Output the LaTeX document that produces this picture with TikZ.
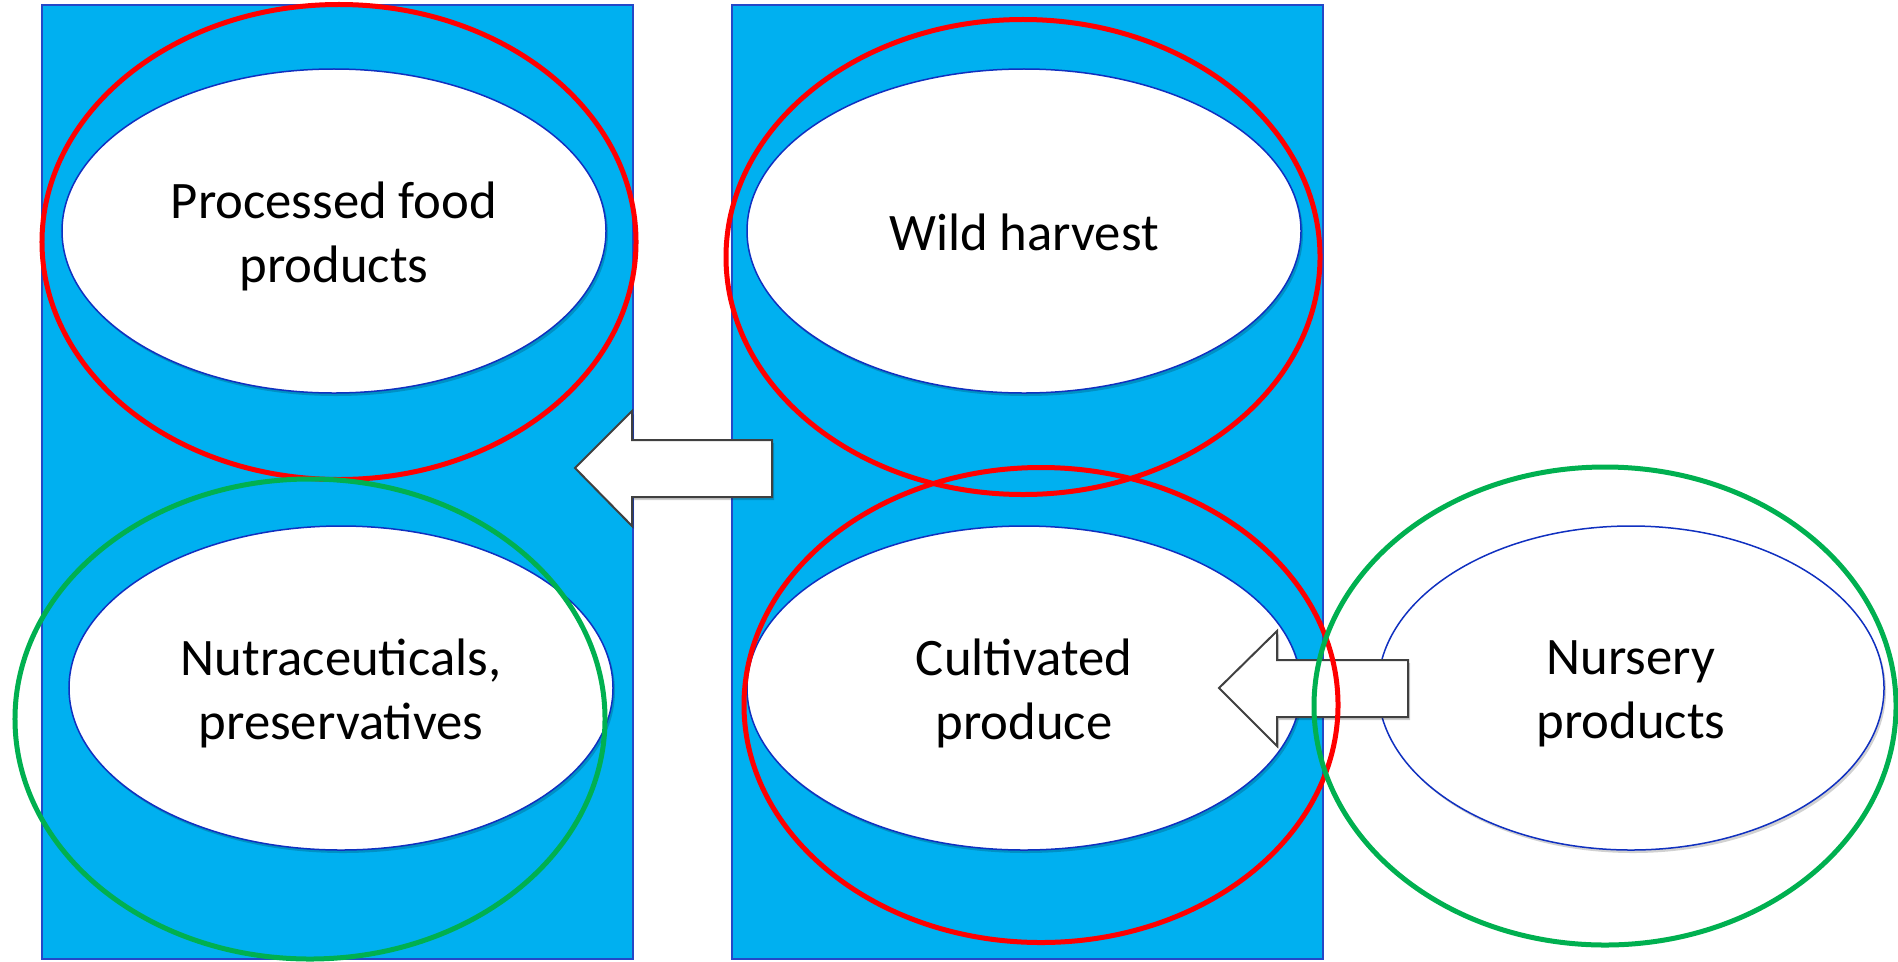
\documentclass[tikz,border=0pt]{standalone}
\usepackage{fontspec}
\setmainfont{Carlito}
\usetikzlibrary{shapes.geometric,shadows}
\definecolor{boxblue}{HTML}{00B0F0}
\definecolor{boxedge}{HTML}{2448C8}
\definecolor{elledge}{HTML}{1030C0}
\definecolor{ringred}{HTML}{FF0000}
\definecolor{ringgreen}{HTML}{00B050}
\definecolor{arrowedge}{HTML}{404040}
\tikzset{
  panel/.style={rectangle, fill=boxblue, draw=boxedge, line width=0.25mm, minimum width=118.2mm, minimum height=190.8mm, inner sep=0pt},
  item/.style={ellipse, fill=white, draw=elledge, line width=0.3mm, inner sep=0pt,
     drop shadow={shadow xshift=0.4mm, shadow yshift=-0.6mm, opacity=0.18, fill=black}},
  itemtext/.style={align=center, inner sep=0pt, font=\fontsize{30}{36.5}\selectfont},
  ring/.style={ellipse, draw=#1, line width=1.0mm, inner sep=0pt, minimum width=118.8mm, minimum height=95mm},
  blockarrow/.style={fill=white, draw=arrowedge, line width=0.4mm, line join=miter,
     drop shadow={shadow xshift=0.4mm, shadow yshift=-0.6mm, opacity=0.2, fill=black}}
}
\begin{document}
\begin{tikzpicture}[x=0.2mm, y=-0.2mm]
\useasboundingbox (0,0) rectangle (1898,961);
% panels
\node[panel] (leftpanel) at (337.5,482) {};
\node[panel] (rightpanel) at (1027.5,482) {};
% white ellipses
\node[item, minimum width=108.8mm, minimum height=64.8mm] (proc) at (334,231) {};
\node[item, minimum width=108.8mm, minimum height=64.8mm] (nutra) at (341,688) {};
\node[item, minimum width=110.8mm, minimum height=64.8mm] (wild) at (1024,231) {};
\node[item, minimum width=110.8mm, minimum height=64.8mm] (cult) at (1024,688) {};
\node[item, minimum width=101.2mm, minimum height=64.8mm] (nurs) at (1631,688) {};
\node[itemtext] (proct) at ([yshift=-1.1mm]proc.center) {Processed food\\products};
\node[itemtext] (nutrat) at ([yshift=-1.1mm]nutra.center) {Nutraceuticals,\\preservatives};
\node[itemtext] (wildt) at ([yshift=-0.3mm]wild.center) {Wild harvest};
\node[itemtext] (cultt) at ([yshift=-1.1mm]cult.center) {Cultivated\\produce};
\node[itemtext] (nurst) at ([yshift=-1.1mm]nurs.center) {Nursery\\products};
% block arrows
\path[blockarrow] (772,440) -- (632,440) -- (632,411) -- (575,468) -- (632,526) -- (632,497) -- (772,497) -- cycle;
\path[blockarrow] (1408,660) -- (1277,660) -- (1277,631) -- (1219,688) -- (1277,746) -- (1277,717) -- (1408,717) -- cycle;
% rings
\node[ring=ringred] (redtl) at (339,242) {};
\node[ring=ringred] (redtr) at (1023,257) {};
\node[ring=ringred] (redbr) at (1041,705) {};
\node[ring=ringgreen, minimum width=118mm, minimum height=96mm] (greenl) at (310,719) {};
\node[ring=ringgreen, minimum width=116.4mm, minimum height=95.6mm] (greenr) at (1605,706) {};
\end{tikzpicture}
\end{document}
